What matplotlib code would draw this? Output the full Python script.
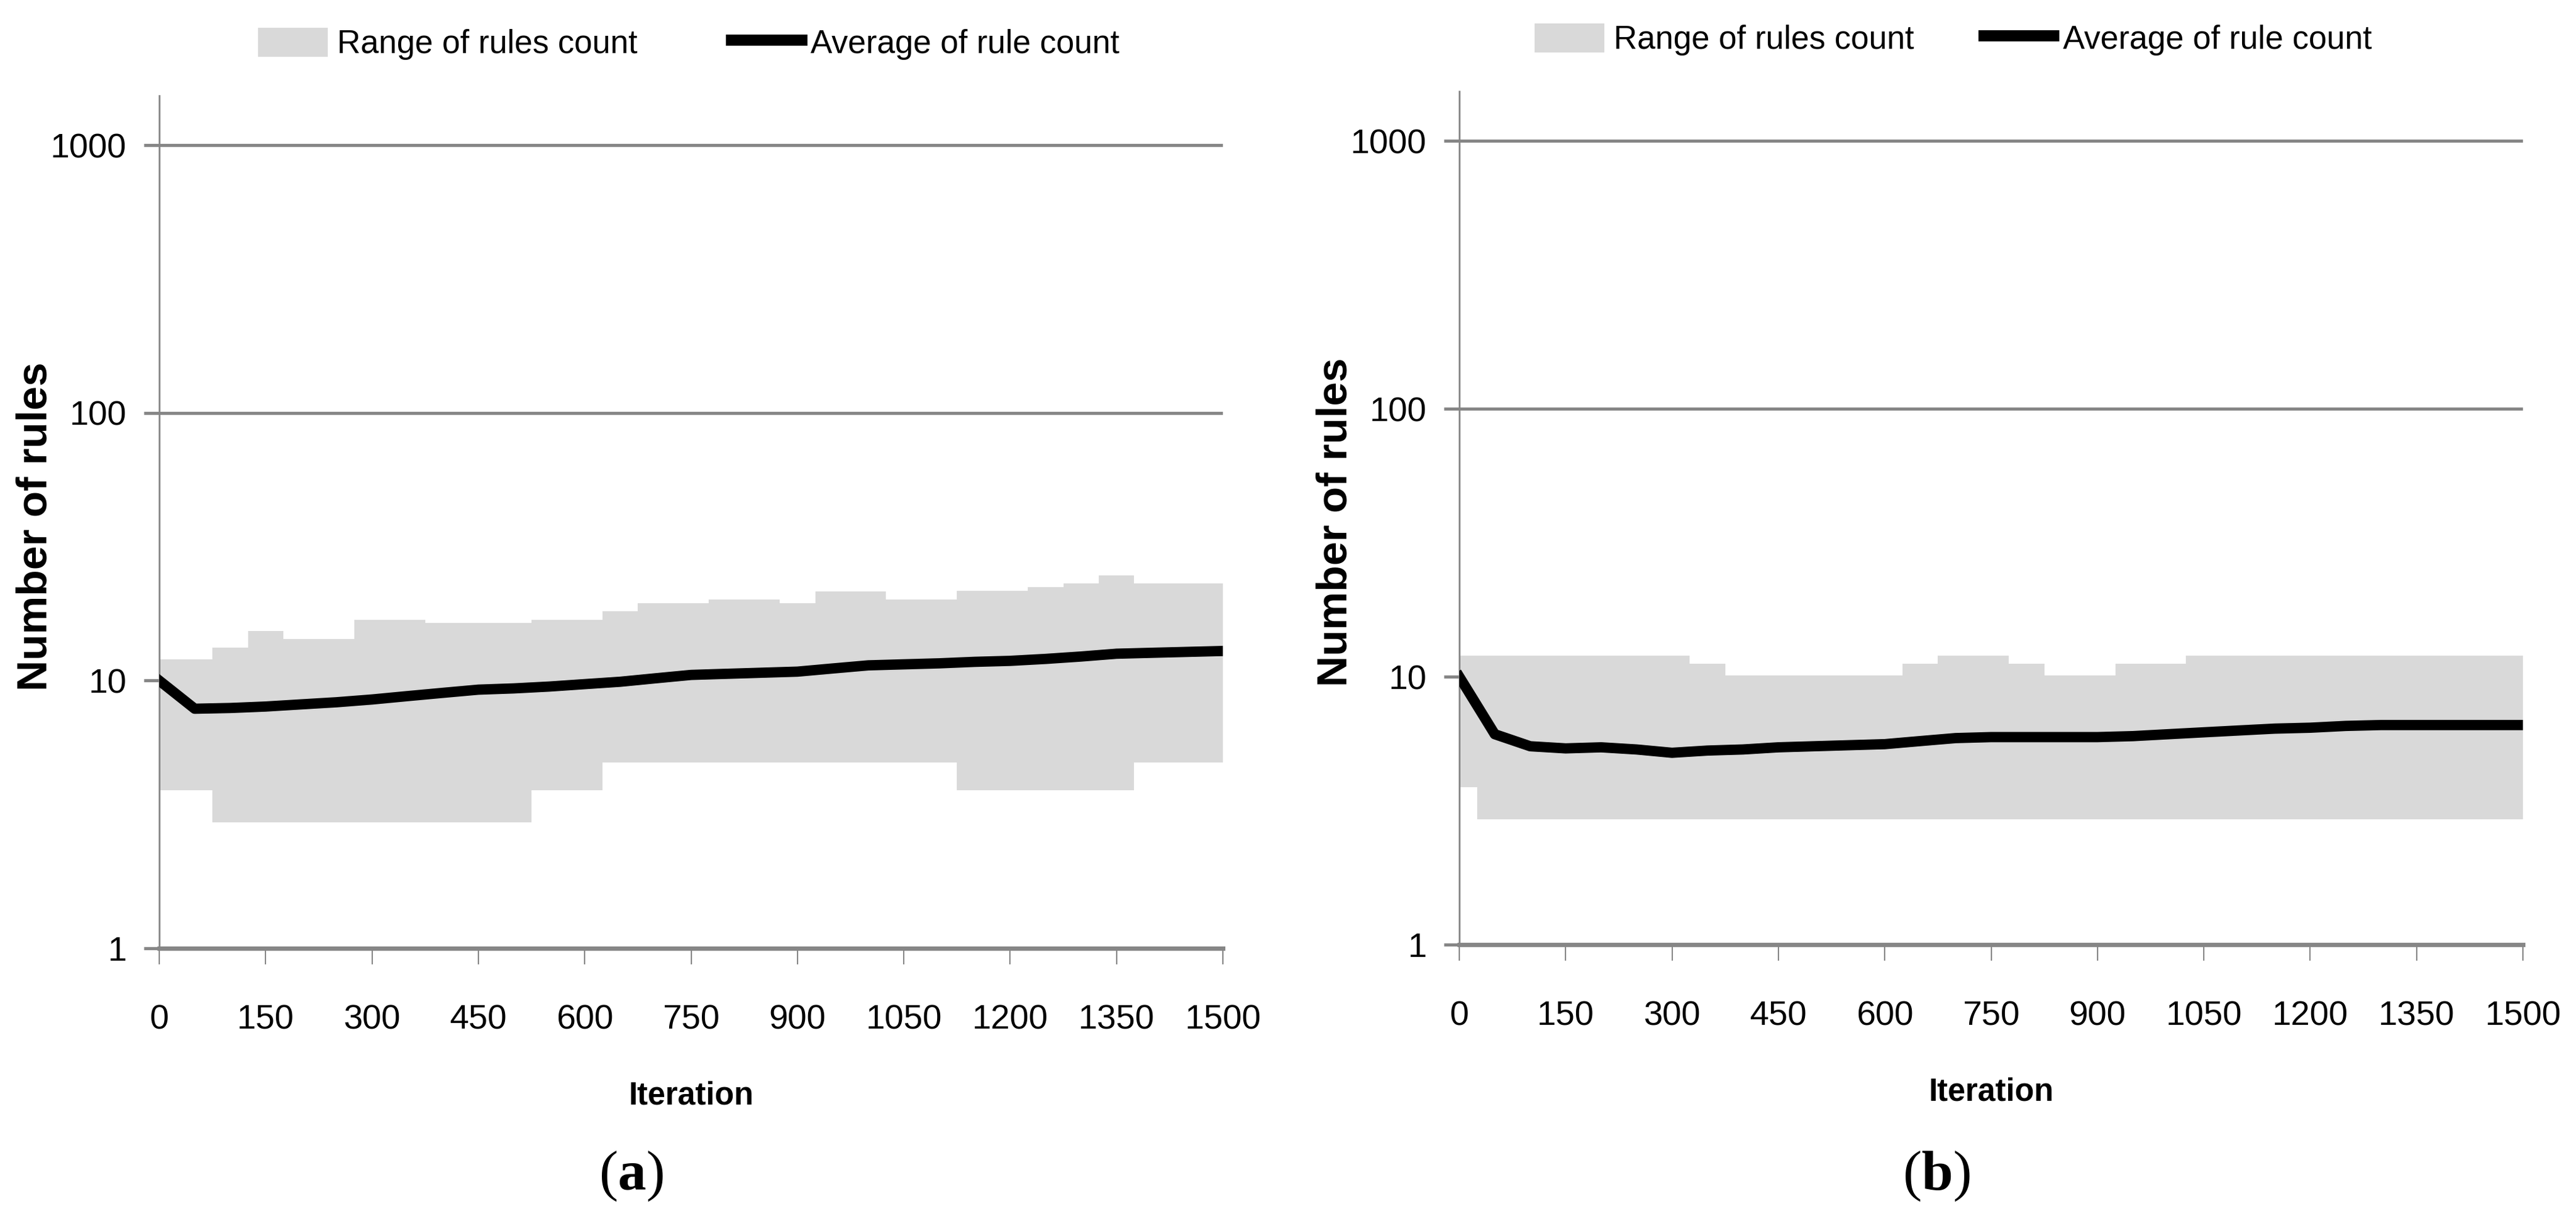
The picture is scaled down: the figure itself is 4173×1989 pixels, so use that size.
import matplotlib
matplotlib.use('Agg')
import matplotlib.pyplot as plt
from matplotlib.patches import Patch
from matplotlib.lines import Line2D

# 数据：每 50 次迭代一个点
iterations = list(range(0, 1501, 50))

a_upper = [12.0, 12.0, 13.3, 15.3, 14.3, 14.3, 16.9, 16.9, 16.4, 16.4, 16.4,
           16.9, 16.9, 18.2, 19.5, 19.5, 20.1, 20.1, 19.5, 21.5, 21.5, 20.1,
           20.1, 21.6, 21.6, 22.3, 23.1, 24.7, 23.1, 23.1, 23.1]
a_lower = [3.9, 3.9, 2.95, 2.95, 2.95, 2.95, 2.95, 2.95, 2.95, 2.95, 2.95,
           3.9, 3.9, 4.94, 4.94, 4.94, 4.94, 4.94, 4.94, 4.94, 4.94, 4.94,
           4.94, 3.9, 3.9, 3.9, 3.9, 3.9, 4.94, 4.94, 4.94]
a_avg = [10.0, 7.85, 7.9, 8.0, 8.15, 8.3, 8.5, 8.75, 9.0, 9.25, 9.35,
         9.5, 9.7, 9.9, 10.2, 10.5, 10.6, 10.7, 10.8, 11.1, 11.4, 11.5,
         11.6, 11.75, 11.85, 12.05, 12.3, 12.6, 12.7, 12.8, 12.9]

b_upper = [12.0, 12.0, 12.0, 12.0, 12.0, 12.0, 12.0, 11.2, 10.1, 10.1, 10.1,
           10.1, 10.1, 11.2, 12.0, 12.0, 11.2, 10.1, 10.1, 11.2, 11.2, 12.0,
           12.0, 12.0, 12.0, 12.0, 12.0, 12.0, 12.0, 12.0, 12.0]
b_lower = [3.87] + [2.94] * 30
b_avg = [10.0, 6.1, 5.5, 5.4, 5.45, 5.35, 5.2, 5.3, 5.35, 5.45, 5.5,
         5.55, 5.6, 5.75, 5.9, 5.95, 5.95, 5.95, 5.95, 6.0, 6.1, 6.2,
         6.3, 6.4, 6.45, 6.55, 6.6, 6.6, 6.6, 6.6, 6.6]

x_ticks = list(range(0, 1501, 150))
y_ticks = [1, 10, 100, 1000]
y_ticklabels = ['1', '10', '100', '1000']
legend_labels = ['Range of rules count', 'Average of rule count']

plt.rcParams.update({
    'font.family': ['Liberation Sans', 'DejaVu Sans'],
    'mathtext.fontset': 'custom',
    'mathtext.rm': 'Liberation Serif',
    'mathtext.bf': 'Liberation Serif:bold',
})

GRID = '#868686'
BAND = '#D9D9D9'
W, H = 4173, 1989

fig = plt.figure(figsize=(W / 100, H / 100), dpi=100)

panels = [
    # 轴位置(像素)、数据、题注位置、图例位置、图例列间距
    ((258, 1536, 1981, 155), a_upper, a_lower, a_avg,
     r'$\mathrm{(}\mathbf{a}\mathrm{)}$', 1022, (418, 71), 2.9),
    ((2364, 1530, 4087, 148), b_upper, b_lower, b_avg,
     r'$\mathrm{(}\mathbf{b}\mathrm{)}$', 3137, (2486, 64), 2.15),
]

for (x0, y0, x1, y1), upper, lower, avg, caption, cap_x, (lx, ly), colsp in panels:
    ax = fig.add_axes([x0 / W, 1 - y0 / H, (x1 - x0) / W, (y0 - y1) / H])
    ax.set_yscale('log')
    ax.set_xlim(0, 1500)
    ax.set_ylim(1, 1530)

    ax.fill_between(iterations, lower, upper, step='mid', color=BAND, lw=0, zorder=1)
    ax.plot(iterations, avg, color='black', lw=12, solid_joinstyle='round', zorder=3)

    # 网格线
    for v in [10, 100, 1000]:
        ax.axhline(v, color=GRID, lw=3.6, zorder=0.5)

    for s in ['top', 'right']:
        ax.spines[s].set_visible(False)
    ax.spines['left'].set_color(GRID)
    ax.spines['left'].set_linewidth(2)
    ax.spines['bottom'].set_color(GRID)
    ax.spines['bottom'].set_linewidth(5)

    ax.set_xticks(x_ticks)
    ax.set_xticklabels([str(t) for t in x_ticks])
    ax.set_yticks(y_ticks)
    ax.set_yticklabels(y_ticklabels)
    ax.minorticks_off()
    ax.tick_params(axis='x', direction='out', length=19, width=1.5, color=GRID,
                   pad=46, labelsize=40)
    ax.tick_params(axis='y', direction='out', length=18, width=3.6, color=GRID,
                   pad=20, labelsize=40)

    ax.set_xlabel('Iteration', fontsize=37, fontweight='bold', va='center')
    ax.xaxis.set_label_coords(0.5, -0.173)
    ax.set_ylabel('Number of rules', fontsize=50, fontweight='bold', va='center')
    ax.yaxis.set_label_coords(-0.1165, 0.495)

    fig.text(cap_x / W, 1 - 1905 / H, caption, ha='center', va='center', fontsize=66)

    handles = [Patch(facecolor=BAND, edgecolor='none'),
               Line2D([0], [0], color='black', lw=13)]
    fig.legend(handles, legend_labels,
               loc='center left', bbox_to_anchor=(lx / W, 1 - ly / H), ncol=2,
               frameon=False, fontsize=38, handlelength=2.15, handleheight=1.0,
               handletextpad=0.27, columnspacing=colsp, borderpad=0,
               borderaxespad=0)

fig.savefig('out.png', dpi=100)
